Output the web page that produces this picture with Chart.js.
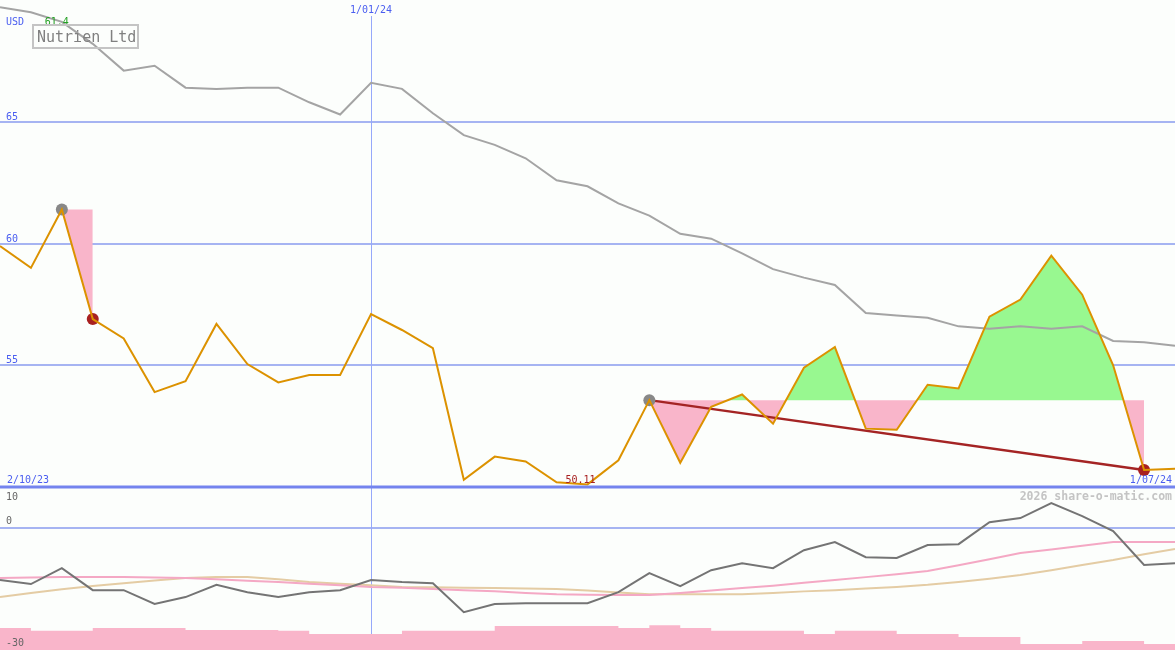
<!DOCTYPE html>
<html>
<head>
<meta charset="utf-8">
<title>Nutrien Ltd</title>
<script src="https://cdn.jsdelivr.net/npm/chart.js@4.4.1/dist/chart.umd.min.js"></script>
<style>
    html, body { margin: 0; padding: 0; background: #fcfefc; }
    #wrap { position: relative; width: 1175px; height: 650px; overflow: hidden; }
    #priceChart { position: absolute; left: 0; top: 0; }
    #oscChart { position: absolute; left: 0; top: 490px; }
</style>
</head>
<body>
<div id="wrap">
    <canvas id="priceChart" width="1175" height="490"></canvas>
    <canvas id="oscChart" width="1175" height="160"></canvas>
</div>
<script>
// weekly closes, 9/10/23 .. 1/07/24
const startDate = new Date(2023, 9, 9);
const weeks = [];
for (let i = 0; i < 39; i++) {
    const d = new Date(startDate.getTime() + i * 7 * 86400000);
    weeks.push(d.getDate() + '/' + String(d.getMonth() + 1).padStart(2, '0') + '/' + String(d.getFullYear()).slice(2));
}

const price = [59.9, 59.0, 61.4, 56.9, 56.1, 53.9, 54.35, 56.7, 55.05, 54.3,
    54.6, 54.6, 57.1, 56.45, 55.7, 50.3, 51.25, 51.05, 50.2, 50.11,
    51.1, 53.57, 51.0, 53.3, 53.8, 52.6, 54.9, 55.75, 52.4, 52.35,
    54.2, 54.05, 57.0, 57.7, 59.5, 57.9, 55.0, 50.7, 50.75];

const movingAvg = [69.7, 69.5, 69.1, 68.2, 67.1, 67.3, 66.4, 66.35, 66.4, 66.4,
    65.8, 65.3, 66.6, 66.35, 65.35, 64.45, 64.05, 63.5, 62.6, 62.35,
    61.65, 61.15, 60.4, 60.2, 59.6, 58.95, 58.6, 58.3, 57.15, 57.05,
    56.95, 56.6, 56.5, 56.6, 56.5, 56.6, 56.0, 55.95, 55.8];

// swing reference levels (high at 61.4, low-high at 53.57)
const refLevel = [null, null, 61.4, 61.4, null, null, null, null, null, null,
    null, null, null, null, null, null, null, null, null, null,
    null, 53.57, 53.57, 53.57, 53.57, 53.57, 53.57, 53.57, 53.57, 53.57,
    53.57, 53.57, 53.57, 53.57, 53.57, 53.57, 53.57, 53.57, null];

const trend = [null, null, null, null, null, null, null, null, null, null,
    null, null, null, null, null, null, null, null, null, null,
    null, 53.57, null, null, null, null, null, null, null, null,
    null, null, null, null, null, null, null, 50.7, null];

const markers = [null, null, 61.4, 56.9, null, null, null, null, null, null,
    null, null, null, null, null, null, null, null, null, null,
    null, 53.57, null, null, null, null, null, null, null, null,
    null, null, null, null, null, null, null, 50.7, null];
const markerColors = weeks.map((w, i) => (i === 3 || i === 37) ? '#a82020' : '#888888');

const momentum = [-12.8, -13.8, -9.9, -15.3, -15.3, -18.7, -17.0, -14.0, -15.8, -17.0,
    -15.8, -15.3, -12.8, -13.3, -13.6, -20.7, -18.7, -18.5, -18.5, -18.5,
    -15.8, -11.1, -14.3, -10.4, -8.7, -9.9, -5.5, -3.5, -7.2, -7.4,
    -4.2, -4.0, 1.4, 2.4, 6.1, 2.9, -0.8, -9.1, -8.7];

const signalFast = [-12.3, -12.2, -12.1, -12.1, -12.1, -12.2, -12.3, -12.6, -13.0, -13.3,
    -13.7, -14.1, -14.5, -14.7, -15.0, -15.3, -15.6, -16.0, -16.3, -16.4,
    -16.5, -16.5, -16.0, -15.4, -14.8, -14.2, -13.5, -12.8, -12.1, -11.4,
    -10.6, -9.2, -7.7, -6.2, -5.3, -4.4, -3.5, -3.5, -3.5];

const signalSlow = [-17.0, -16.0, -15.1, -14.3, -13.6, -12.9, -12.3, -12.1, -12.1, -12.6,
    -13.3, -13.7, -14.1, -14.5, -14.6, -14.7, -14.8, -14.9, -15.0, -15.4,
    -15.9, -16.3, -16.3, -16.3, -16.3, -16.0, -15.6, -15.3, -14.9, -14.5,
    -14.0, -13.3, -12.5, -11.6, -10.4, -9.1, -7.9, -6.5, -5.2];

const volumeBars = [-24.6, -25.3, -25.3, -24.6, -24.6, -24.6, -25.1, -25.1, -25.1, -25.3,
    -26.1, -26.1, -26.1, -25.3, -25.3, -25.3, -24.1, -24.1, -24.1, -24.1,
    -24.6, -23.9, -24.6, -25.3, -25.3, -25.3, -26.1, -25.3, -25.3, -26.1,
    -26.1, -26.8, -26.8, -28.5, -28.5, -27.8, -27.8, -28.5, -28.5];

const priceGrid = [55, 60, 65];
const markLabel = '1/01/24';

const FONT = '10px "DejaVu Sans Mono", monospace';
const BLUE_TEXT = '#4a5ef0';

document.addEventListener('DOMContentLoaded', () => {
    const hLine = (ctx, py, color, width, x0, x1) => {
        ctx.strokeStyle = color;
        ctx.lineWidth = width;
        ctx.beginPath();
        ctx.moveTo(x0, py);
        ctx.lineTo(x1, py);
        ctx.stroke();
    };

    const vLine = (ctx, px, y0, y1) => {
        ctx.strokeStyle = '#96a8fa';
        ctx.lineWidth = 1;
        ctx.beginPath();
        ctx.moveTo(px + 0.5, y0);
        ctx.lineTo(px + 0.5, y1);
        ctx.stroke();
    };

    const priceDecor = {
        id: 'priceDecor',
        beforeDatasetsDraw(chart) {
            const { ctx, scales: { x, y }, width } = chart;
            ctx.save();
            priceGrid.forEach(v => hLine(ctx, Math.round(y.getPixelForValue(v)), '#a6b4f2', 2, 0, width));
            vLine(ctx, Math.round(x.getPixelForValue(weeks.indexOf(markLabel))), 16, chart.height);
            ctx.restore();
        },
        afterDatasetsDraw(chart) {
            const { ctx, scales: { x, y }, width } = chart;
            ctx.save();
            hLine(ctx, Math.round(y.getPixelForValue(50)), '#7484ee', 3, 0, width);

            ctx.font = FONT;
            ctx.textBaseline = 'alphabetic';
            ctx.fillStyle = BLUE_TEXT;
            ctx.textAlign = 'left';
            ctx.fillText('USD', 6, 25);
            priceGrid.forEach(v => ctx.fillText(String(v), 6, Math.round(y.getPixelForValue(v)) - 2));
            ctx.fillText('2/10/23', 7, 483);
            ctx.textAlign = 'right';
            ctx.fillText(weeks[weeks.length - 1], 1172, 483);
            ctx.textAlign = 'center';
            ctx.fillText(markLabel, Math.round(x.getPixelForValue(weeks.indexOf(markLabel))), 13);

            // high / low annotations
            ctx.fillStyle = '#22a022';
            ctx.fillText(String(Math.max(...price)), x.getPixelForValue(price.indexOf(Math.max(...price))) - 5, 25);
            ctx.fillStyle = '#a82020';
            ctx.fillText(Math.min(...price).toFixed(2), x.getPixelForValue(price.indexOf(Math.min(...price))) - 7, 483);

            // name box
            ctx.strokeStyle = '#c4c4c4';
            ctx.lineWidth = 2;
            ctx.strokeRect(33, 25, 105, 23);
            ctx.font = '15px "DejaVu Sans Mono", monospace';
            ctx.fillStyle = '#808080';
            ctx.textAlign = 'left';
            ctx.fillText('Nutrien Ltd', 37, 42);
            ctx.restore();
        }
    };

    const oscDecor = {
        id: 'oscDecor',
        beforeDatasetsDraw(chart) {
            const { ctx, scales: { x, y }, width } = chart;
            ctx.save();
            hLine(ctx, Math.round(y.getPixelForValue(0)), '#a6b4f2', 2, 0, width);
            vLine(ctx, Math.round(x.getPixelForValue(weeks.indexOf(markLabel))), 0, chart.height);
            ctx.restore();
        },
        afterDatasetsDraw(chart) {
            const { ctx } = chart;
            ctx.save();
            ctx.font = FONT;
            ctx.fillStyle = '#666666';
            ctx.textAlign = 'left';
            ctx.fillText('10', 6, 10);
            ctx.fillText('0', 6, 34);
            ctx.fillText('-30', 6, 156);
            ctx.font = 'bold 11.5px "DejaVu Sans Mono", monospace';
            ctx.fillStyle = '#c4c4c4';
            ctx.textAlign = 'right';
            ctx.fillText('2026 share-o-matic.com', 1172, 10);
            ctx.restore();
        }
    };

    const baseOptions = (min, max) => ({
        responsive: false,
        animation: false,
        devicePixelRatio: 1,
        layout: { padding: 0, autoPadding: false },
        elements: { point: { radius: 0 }, line: { tension: 0 } },
        plugins: { legend: { display: false }, tooltip: { enabled: false } },
        scales: {
            x: { type: 'category', display: false, offset: false },
            y: { display: false, min: min, max: max }
        }
    });

    new Chart(document.getElementById('priceChart').getContext('2d'), {
        type: 'line',
        data: {
            labels: weeks,
            datasets: [
                { label: 'Close', data: price, borderColor: '#dc9200', borderWidth: 2, fill: false },
                {
                    label: 'Swings', data: markers, showLine: false,
                    pointRadius: 6, pointBackgroundColor: markerColors, pointBorderWidth: 0
                },
                { label: 'Trend', data: trend, spanGaps: true, borderColor: '#a42424', borderWidth: 2.5, fill: false },
                { label: 'Average', data: movingAvg, borderColor: '#a4a4a4', borderWidth: 2, fill: false },
                {
                    label: 'Reference', data: refLevel, borderWidth: 0, borderColor: 'rgba(0,0,0,0)',
                    fill: { target: 0, above: '#f9b5ca', below: '#98f890' }
                }
            ]
        },
        options: baseOptions(49.88, 70),
        plugins: [priceDecor]
    });

    new Chart(document.getElementById('oscChart').getContext('2d'), {
        type: 'line',
        data: {
            labels: weeks,
            datasets: [
                { label: 'Momentum', data: momentum, borderColor: '#747474', borderWidth: 2, fill: false },
                { label: 'Fast', data: signalFast, borderColor: '#f4a8c4', borderWidth: 2, fill: false },
                { label: 'Slow', data: signalSlow, borderColor: '#e4cca4', borderWidth: 2, fill: false },
                {
                    label: 'Volume', data: volumeBars, stepped: true, borderWidth: 0,
                    borderColor: 'rgba(0,0,0,0)', backgroundColor: '#f9b5ca', fill: 'start'
                }
            ]
        },
        options: baseOptions(-30, 9.3),
        plugins: [oscDecor]
    });
});
</script>
</body>
</html>
